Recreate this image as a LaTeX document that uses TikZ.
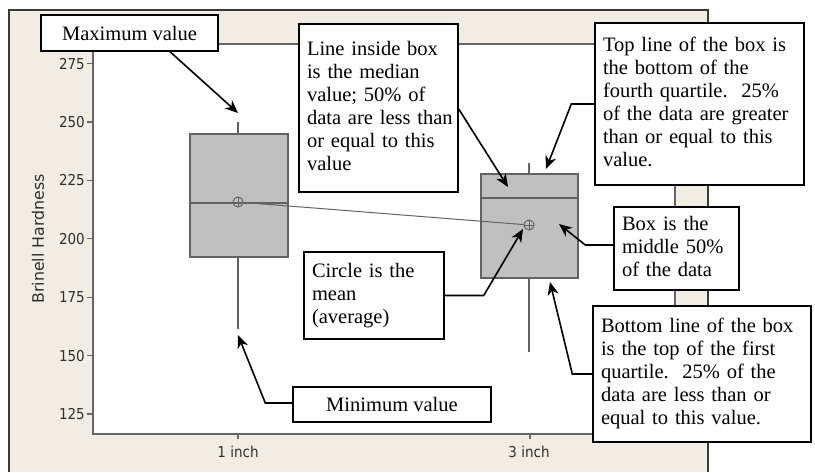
\documentclass[tikz,border=0pt]{standalone}
\usepackage{fontspec}
\setmainfont{Liberation Serif}
\newfontfamily\axisfont{DejaVu Sans Condensed}
\newfontfamily\titlefont{DejaVu Sans}
\usetikzlibrary{arrows.meta}
\newcommand\ntfont{\fontsize{20.5pt}{23pt}\selectfont}
\newcommand\lines[1]{\begin{tabular}{@{}l@{}}#1\end{tabular}}
\definecolor{panel}{HTML}{F2EDE4}
\definecolor{boxfill}{HTML}{C0C0C0}
\definecolor{boxline}{HTML}{626262}
\definecolor{axisline}{HTML}{666666}
\definecolor{frameline}{HTML}{3A3A3A}
\definecolor{ticktext}{HTML}{2E2E2E}
\tikzset{
  note/.style={draw=black, line width=1.4pt, fill=white, font=\ntfont,
    inner xsep=8pt, inner ysep=0pt},
  callout/.style={draw=black, line width=1.6pt,
    -{Stealth[length=13pt,width=11pt,inset=4pt]}},
  quartbox/.style={fill=boxfill, draw=boxline, line width=1.2pt},
  whisker/.style={draw=boxline, line width=1.2pt},
  meanmark/.style={circle, draw=boxline, line width=1pt, minimum size=10pt,
    inner sep=0pt,
    path picture={\draw[boxline, line width=0.8pt]
      (path picture bounding box.north) -- (path picture bounding box.south)
      (path picture bounding box.west) -- (path picture bounding box.east);}},
  ticklabel/.style={font=\axisfont\fontsize{15pt}{16pt}\selectfont, text=ticktext, inner sep=0pt},
}
\begin{document}
\begin{tikzpicture}[x=1pt,y=-1pt]
\useasboundingbox (0,0) rectangle (815,472);
\fill[white] (0,0) rectangle (815,472);

% chart panel
\fill[panel] (9,10) rectangle (708,472);
\draw[frameline, line width=1.2pt] (9,472) -- (9,10) -- (708,10) -- (708,472);

% plotting area
\filldraw[fill=white, draw=axisline, line width=1.3pt] (93,44) rectangle (675,434);

% y axis ticks and labels
\foreach \v in {125,150,...,275} {
  \pgfmathsetmacro{\yy}{414-2.336*(\v-125)}
  \draw[axisline, line width=1.1pt] (87,\yy) -- (93,\yy);
  \node[ticklabel, anchor=east] at (85,\yy) {\v};
}
\node[font=\titlefont\fontsize{15.8pt}{17pt}\selectfont, text=ticktext, rotate=90]
  (ytitle) at (38,239) {Brinell Hardness};

% x axis ticks and labels
\draw[axisline, line width=1.1pt] (238,434) -- (238,439) (530,434) -- (530,439);
\node[ticklabel] (x1) at (238,452) {1 inch};
\node[ticklabel] (x3) at (529,452) {3 inch};

% first box plot
\draw[whisker] (238,122) -- (238,134) (238,257) -- (238,329);
\draw[quartbox] (190,134) rectangle (288,257);
\draw[whisker] (190,203) -- (288,203);

% second box plot
\draw[whisker] (529,163) -- (529,174) (529,278) -- (529,352);
\draw[quartbox] (481,174) rectangle (578,278);
\draw[whisker] (481,198) -- (578,198);

% means and the line joining them
\node[meanmark] (m1) at (238,202) {};
\node[meanmark] (m3) at (529,225) {};
\draw[boxline, line width=1pt] (m1) -- (m3);

% arrow targets
\coordinate (tmax) at (238,113);
\coordinate (tmed) at (508,187);
\coordinate (tq3) at (546,169);
\coordinate (tmid) at (559,224);
\coordinate (tq1) at (550,282);
\coordinate (tmean) at (523,229);
\coordinate (tmin) at (238,335);

% annotations
\node[note, minimum width=177pt, minimum height=36pt] (maxv) at (129.5,33) {Maximum value};
\node[note, minimum width=159pt, minimum height=168pt, text width=143pt] (medn) at (378.5,108)
  {\lines{Line inside box\\ is the median\\ value; 50\% of\\ data are less than\\ or equal to this\\ value}};
\node[note, minimum width=209pt, minimum height=162pt, text width=193pt] (topq) at (699.5,104)
  {\lines{Top line of the box is\\ the bottom of the\\ fourth quartile.\ \ 25\%\\ of the data are greater\\ than or equal to this\\ value.}};
\node[note, minimum width=125pt, minimum height=83pt, text width=109pt] (mid50) at (676.5,248.5)
  {\lines{Box is the\\ middle 50\%\\ of the data}};
\node[note, minimum width=218pt, minimum height=136pt, text width=202pt] (botq) at (702,374)
  {\lines{Bottom line of the box\\ is the top of the first\\ quartile.\ \ 25\% of the\\ data are less than or\\ equal to this value.}};
\node[note, minimum width=140pt, minimum height=87pt, text width=124pt] (meanb) at (374,295.5)
  {\lines{Circle is the\\ mean\\ (average)}};
\node[note, minimum width=198pt, minimum height=35pt] (minv) at (392,404.5) {Minimum value};

% callout arrows
\draw[callout] ([xshift=40.5pt]maxv.south) -- (tmax);
\draw[callout] ([yshift=-1pt]medn.east) -- (tmed);
\draw[callout] (topq.west) -- ++(-23,0) -- (tq3);
\draw[callout] ([yshift=3.5pt]mid50.west) -- ++(-28,0) -- (tmid);
\draw[callout] (botq.west) -- ++(-20,0) -- (tq1);
\draw[callout] (meanb.east) -- ++(39,0) -- (tmean);
\draw[callout] ([yshift=1.5pt]minv.west) -- ++(-27,0) -- (tmin);
\end{tikzpicture}
\end{document}
